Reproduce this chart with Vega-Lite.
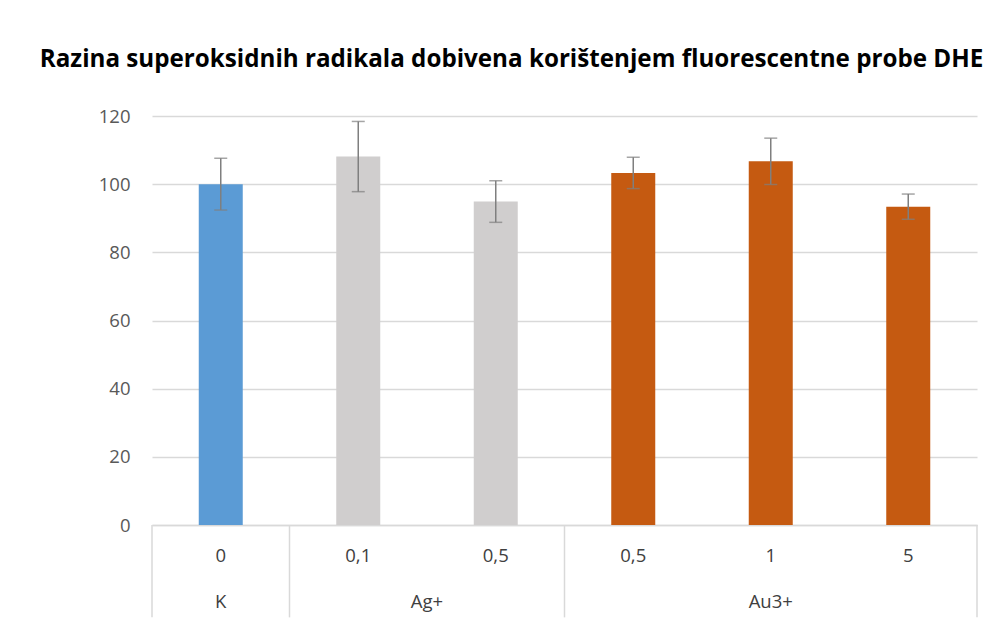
{
  "$schema": "https://vega.github.io/schema/vega-lite/v6.json",
  "autosize": "none",
  "width": 825,
  "height": 409,
  "padding": {"left": 152, "top": 116, "right": 17, "bottom": 112},
  "background": "white",
  "config": {
    "view": {"stroke": null},
    "font": "Open Sans",
    "text": {"font": "Open Sans"}
  },
  "title": {
    "text": "Razina superoksidnih radikala dobivena korištenjem fluorescentne probe DHE",
    "font": "Open Sans",
    "fontSize": 24.2,
    "fontWeight": "bold",
    "color": "#000000",
    "anchor": "middle",
    "dx": -53,
    "baseline": "alphabetic",
    "offset": 16
  },
  "datasets": {
    "bars": [
      {"id": "K|0", "group": "K", "dose": "0", "value": 100, "err": 7.6},
      {"id": "Ag+|0.1", "group": "Ag+", "dose": "0,1", "value": 108.1, "err": 10.3},
      {"id": "Ag+|0.5", "group": "Ag+", "dose": "0,5", "value": 94.9, "err": 6.1},
      {"id": "Au3+|0.5", "group": "Au3+", "dose": "0,5", "value": 103.3, "err": 4.6},
      {"id": "Au3+|1", "group": "Au3+", "dose": "1", "value": 106.7, "err": 6.8},
      {"id": "Au3+|5", "group": "Au3+", "dose": "5", "value": 93.4, "err": 3.7}
    ],
    "groups": [
      {"group": "K", "anchor": "K|0", "at": "center"},
      {"group": "Ag+", "anchor": "Ag+|0.1", "at": "end"},
      {"group": "Au3+", "anchor": "Au3+|1", "at": "center"}
    ],
    "seps": [
      {"id": "K|0", "side": "start"},
      {"id": "Ag+|0.1", "side": "start"},
      {"id": "Au3+|0.5", "side": "start"},
      {"id": "Au3+|5", "side": "end"}
    ]
  },
  "layer": [
    {
      "data": {"name": "bars"},
      "mark": {"type": "bar", "width": {"band": 0.32}},
      "encoding": {
        "x": {
          "field": "id", "type": "nominal",
          "scale": {"domain": ["K|0", "Ag+|0.1", "Ag+|0.5", "Au3+|0.5", "Au3+|1", "Au3+|5"], "paddingInner": 0, "paddingOuter": 0},
          "axis": {"labels": false, "ticks": false, "title": null, "domain": true, "domainColor": "#d9d9d9", "domainWidth": 1.5, "grid": false}
        },
        "y": {
          "field": "value", "type": "quantitative",
          "scale": {"domain": [0, 120], "nice": false, "zero": true},
          "axis": {
            "values": [0, 20, 40, 60, 80, 100, 120],
            "title": null, "domain": false, "ticks": false,
            "grid": true, "gridColor": "#d9d9d9", "gridWidth": 1.5,
            "labelFont": "Open Sans", "labelFontSize": 18.5, "labelColor": "#595959",
            "labelPadding": 22
          }
        },
        "color": {
          "field": "group", "type": "nominal",
          "scale": {"domain": ["K", "Ag+", "Au3+"], "range": ["#5b9bd5", "#d0cece", "#c55a11"]},
          "legend": null
        }
      }
    },
    {
      "data": {"name": "bars"},
      "mark": {
        "type": "errorbar",
        "ticks": {"size": 13, "thickness": 1.5, "color": "#7f7f7f"},
        "rule": {"strokeWidth": 1.5, "color": "#7f7f7f"}
      },
      "encoding": {
        "x": {"field": "id", "type": "nominal"},
        "y": {"field": "value", "type": "quantitative"},
        "yError": {"field": "err"}
      }
    },
    {
      "data": {"name": "bars"},
      "mark": {"type": "text", "fontSize": 18.5, "color": "#404040", "baseline": "middle", "align": "center"},
      "encoding": {
        "x": {"field": "id", "type": "nominal"},
        "y": {"datum": -9.2},
        "text": {"field": "dose"}
      }
    },
    {
      "data": {"name": "groups"},
      "transform": [{"filter": "datum.at === 'center'"}],
      "mark": {"type": "text", "fontSize": 18.5, "color": "#404040", "baseline": "middle", "align": "center"},
      "encoding": {
        "x": {"field": "anchor", "type": "nominal"},
        "y": {"datum": -22.7},
        "text": {"field": "group"}
      }
    },
    {
      "data": {"name": "groups"},
      "transform": [{"filter": "datum.at === 'end'"}],
      "mark": {"type": "text", "fontSize": 18.5, "color": "#404040", "baseline": "middle", "align": "center"},
      "encoding": {
        "x": {"field": "anchor", "type": "nominal", "bandPosition": 1},
        "y": {"datum": -22.7},
        "text": {"field": "group"}
      }
    },
    {
      "data": {"name": "seps"},
      "transform": [{"filter": "datum.side === 'start'"}],
      "mark": {"type": "rule", "color": "#d9d9d9", "strokeWidth": 1.5},
      "encoding": {
        "x": {"field": "id", "type": "nominal", "bandPosition": 0},
        "y": {"datum": 0},
        "y2": {"datum": -27.1}
      }
    },
    {
      "data": {"name": "seps"},
      "transform": [{"filter": "datum.side === 'end'"}],
      "mark": {"type": "rule", "color": "#d9d9d9", "strokeWidth": 1.5},
      "encoding": {
        "x": {"field": "id", "type": "nominal", "bandPosition": 1},
        "y": {"datum": 0},
        "y2": {"datum": -27.1}
      }
    }
  ]
}
